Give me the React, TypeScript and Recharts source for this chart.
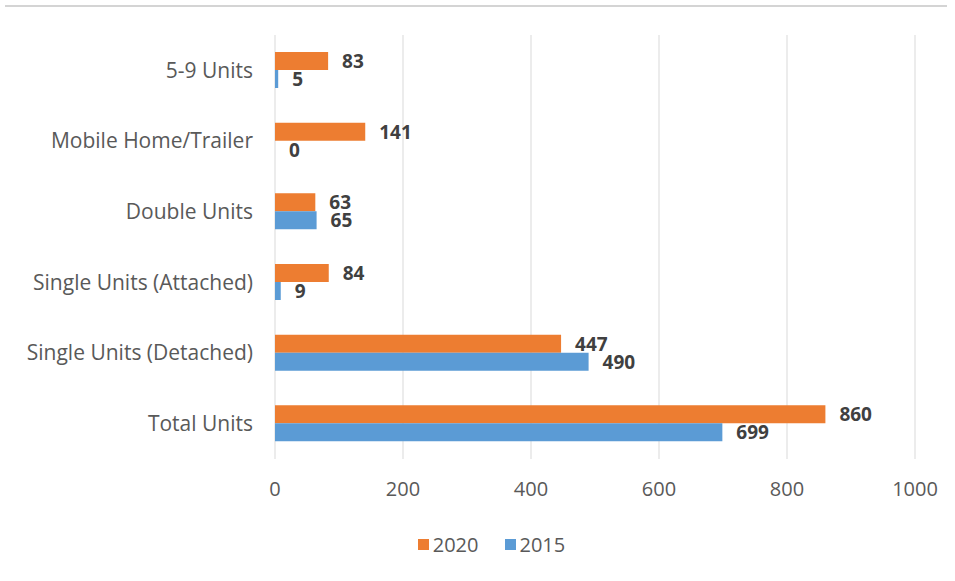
import React from "react";
import {
  Bar,
  BarChart,
  CartesianGrid,
  LabelList,
  Legend,
  XAxis,
  YAxis,
} from "recharts";

const categories = [
  "5-9 Units",
  "Mobile Home/Trailer",
  "Double Units",
  "Single Units (Attached)",
  "Single Units (Detached)",
  "Total Units",
];
const values2020 = [83, 141, 63, 84, 447, 860];
const values2015 = [5, 0, 65, 9, 490, 699];
const xTicks = [0, 200, 400, 600, 800, 1000];

const data = categories.map((name, i) => ({
  name,
  "2020": values2020[i],
  "2015": values2015[i],
}));

const FONT = "'Open Sans', sans-serif";
const ORANGE = "#ED7D31";
const BLUE = "#5B9BD5";

const series = [
  { key: "2020", color: ORANGE },
  { key: "2015", color: BLUE },
];

// value label drawn right of bar end, also for zero-width bars
const ValueLabel = (props: any) => {
  const { x, y, width, height, value } = props;
  return (
    <text
      x={Number(x) + Number(width || 0) + 14}
      y={Number(y) + Number(height) / 2}
      dominantBaseline="central"
      fill="#404040"
      fontWeight={700}
      fontSize={19}
      fontFamily={FONT}
    >
      {value}
    </text>
  );
};

const LegendContent = () => (
  <div
    style={{
      display: "flex",
      justifyContent: "center",
      gap: 26,
      fontFamily: FONT,
      fontSize: 20,
      color: "#595959",
      paddingLeft: 28,
    }}
  >
    {series.map((s) => (
      <div key={s.key} style={{ display: "flex", alignItems: "center", gap: 4 }}>
        <span style={{ width: 11, height: 11, background: s.color, display: "inline-block" }} />
        <span>{s.key}</span>
      </div>
    ))}
  </div>
);

export default function App() {
  return (
    <div
      style={{
        position: "absolute",
        left: 0,
        top: 0,
        width: 955,
        height: 581,
        background: "#fff",
        fontFamily: FONT,
      }}
    >
      <div
        style={{
          position: "absolute",
          left: 5,
          right: 8,
          top: 5,
          height: 2,
          background: "#d4d4d4",
        }}
      />
      <BarChart
        width={955}
        height={581}
        data={data}
        layout="vertical"
        margin={{ top: 35, right: 40, left: 0, bottom: 62 }}
        barSize={18}
        barGap={0}
      >
        <CartesianGrid horizontal={false} stroke="#d9d9d9" />
        <XAxis
          type="number"
          domain={[0, 1000]}
          ticks={xTicks}
          axisLine={false}
          tickLine={false}
          tickMargin={17}
          tick={{ fill: "#595959", fontSize: 20, fontFamily: FONT }}
        />
        <YAxis
          type="category"
          dataKey="name"
          width={275}
          axisLine={false}
          tickLine={false}
          tickMargin={16}
          tick={{ fill: "#595959", fontSize: 21, fontFamily: FONT }}
        />
        <Legend
          verticalAlign="bottom"
          content={<LegendContent />}
          wrapperStyle={{ top: 531, left: 0, width: 955, height: 30 }}
        />
        {series.map((s) => (
          <Bar
            key={s.key}
            dataKey={s.key}
            fill={s.color}
            minPointSize={(v: number) => (v === 0 ? 0.01 : 0)}
            isAnimationActive={false}
          >
            <LabelList dataKey={s.key} content={<ValueLabel />} />
          </Bar>
        ))}
      </BarChart>
    </div>
  );
}
